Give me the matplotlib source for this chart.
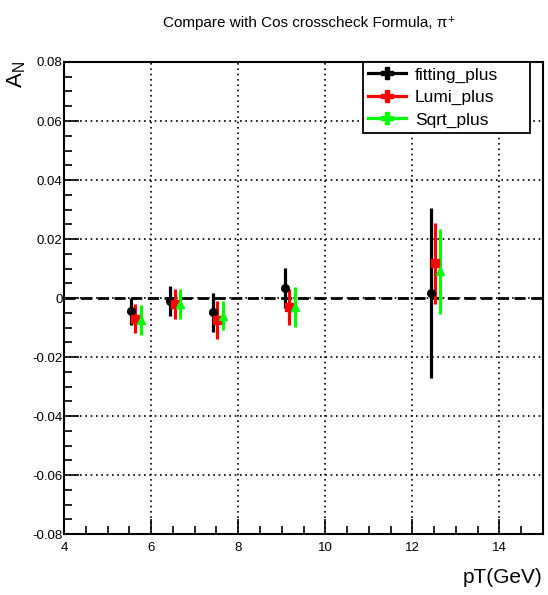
import matplotlib
matplotlib.use('Agg')
import matplotlib.pyplot as plt
from matplotlib.lines import Line2D
from matplotlib.ticker import MultipleLocator

plt.rcParams['font.family'] = ['Liberation Sans', 'DejaVu Sans']

# values
fit_x = [5.53, 6.44, 7.43, 9.08, 12.43]
fit_y = [-0.0045, -0.001, -0.0048, 0.0035, 0.0016]
fit_err = [0.0045, 0.005, 0.0066, 0.0068, 0.0288]

lumi_x = [5.63, 6.55, 7.52, 9.16, 12.51]
lumi_y = [-0.007, -0.002, -0.0075, -0.003, 0.0117]
lumi_err = [0.005, 0.005, 0.0065, 0.006, 0.0137]

sqrt_x = [5.76, 6.66, 7.64, 9.30, 12.63]
sqrt_y = [-0.0075, -0.002, -0.006, -0.003, 0.009]
sqrt_err = [0.005, 0.005, 0.005, 0.0067, 0.0143]

series = [
    ("fitting_plus", fit_x, fit_y, fit_err, "black", "o"),
    ("Lumi_plus", lumi_x, lumi_y, lumi_err, "#ff0000", "s"),
    ("Sqrt_plus", sqrt_x, sqrt_y, sqrt_err, "#00ff00", "^"),
]

fig = plt.figure(figsize=(5.48, 5.95), dpi=100)
ax = fig.add_axes([0.1168, 0.1025, 0.8741, 0.7933])

ax.set_xlim(4, 15)
ax.set_ylim(-0.08, 0.08)

ax.axhline(0, color='black', lw=2, dashes=(4, 2), zorder=2)

handles = []
for label, x, y, err, color, marker in series:
    ax.errorbar(x, y, yerr=err, fmt=marker, color=color, ms=5.5,
                elinewidth=2.3, capsize=0, zorder=3)
    handles.append(Line2D([], [], color=color, lw=2.3, marker='P', ms=8,
                          label=label))

ax.xaxis.set_major_locator(MultipleLocator(2))
ax.xaxis.set_minor_locator(MultipleLocator(0.5))
ax.yaxis.set_major_locator(MultipleLocator(0.02))
ax.yaxis.set_minor_locator(MultipleLocator(0.005))
ax.tick_params(which='both', direction='in', top=False, right=False,
               labelsize=9.5, width=1.2)
ax.tick_params(which='major', length=11)
ax.tick_params(which='minor', length=6)
ax.tick_params(axis='x', pad=6)
ax.tick_params(axis='y', pad=1)
ax.yaxis.set_major_formatter(plt.FuncFormatter(
    lambda v, p: "0" if abs(v) < 1e-9 else f"{v:.2f}"))

ax.grid(True, which='major', color='black', linestyle=(0, (1, 2.2)), lw=1.2)
for sp in ax.spines.values():
    sp.set_linewidth(1.5)

# ROOT-style legend box with fixed width
leg = ax.legend(handles=handles, loc='upper left',
                bbox_to_anchor=(0.624, 0.0, 0.349, 1.0), mode='expand',
                fancybox=False, edgecolor='black', framealpha=1, fontsize=12.5,
                borderaxespad=0, handlelength=2.2, labelspacing=0.42,
                borderpad=0.3, handletextpad=0.5)
leg.get_frame().set_linewidth(1.3)

fig.text(0.565, 0.962, "Compare with Cos crosscheck Formula, \u03c0\u207a",
         ha='center', va='center', fontsize=11)
fig.text(0.03, 0.875, r"A$_\mathregular{N}$", rotation=90, ha='center',
         va='center', fontsize=16)
fig.text(0.99, 0.03, "pT(GeV)", ha='right', va='center', fontsize=15)

fig.savefig("out.png", dpi=100)
